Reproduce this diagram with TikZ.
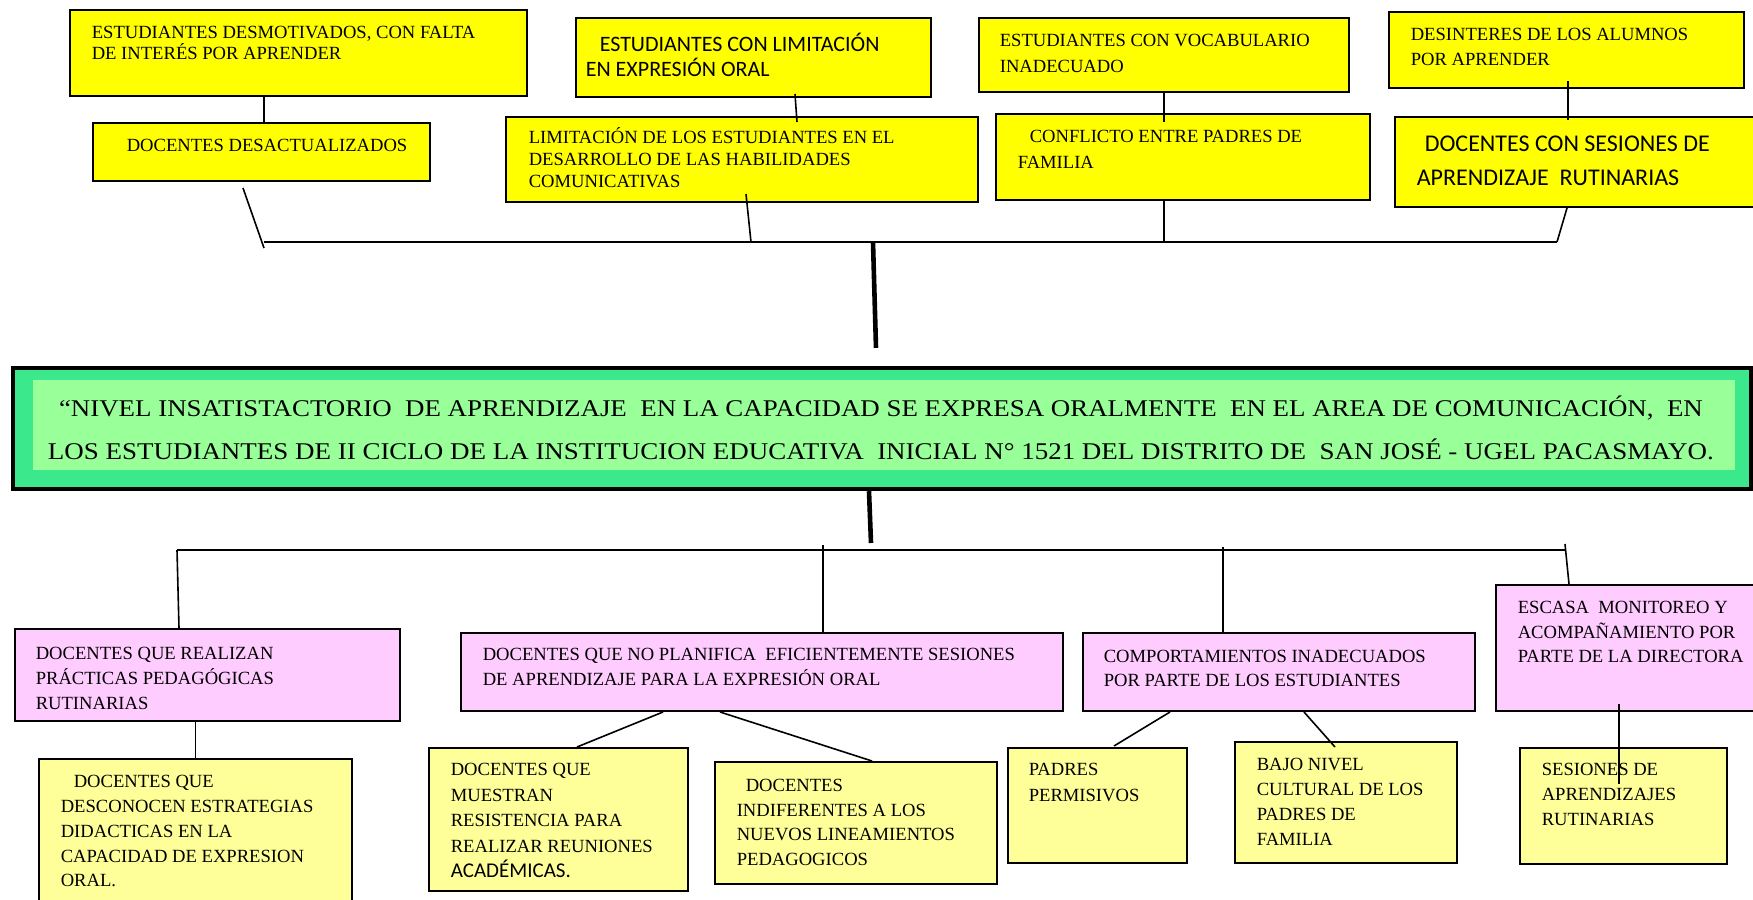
\documentclass[tikz,border=0pt]{standalone}
\usepackage{fontspec}
\setmainfont{Liberation Serif}
\newfontfamily\calibri{Carlito}
\usepackage{graphicx}
\usetikzlibrary{calc,fit}

\definecolor{amarillo}{HTML}{FFFF00}
\definecolor{amarilloclaro}{HTML}{FFFF99}
\definecolor{rosado}{HTML}{FFCCFF}
\definecolor{verde}{HTML}{3CE88C}
\definecolor{verdeclaro}{HTML}{99FF99}

\begin{document}
\begin{tikzpicture}
[x=0.5pt,y=-0.5pt,line width=0.8pt,
caja/.style={draw,line width=1pt,inner sep=0pt},
efecto/.style={caja,fill=amarillo},
causa/.style={caja,fill=rosado},
subcausa/.style={caja,fill=amarilloclaro},
txt/.style={anchor=north west,align=left,inner sep=0pt,
	font=\fontsize{9.3}{#1}\selectfont},
grueso/.style={line width=2.3pt}]

\clip (0,0) rectangle (1753,900);

% efectos (arriba)
\node[efecto,fit={(70,10) (527,96)}] (a1) {};
\node[efecto,fit={(93,123) (430,181)}] (a2) {};
\node[efecto,fit={(576,18) (931,97)}] (b1) {};
\node[efecto,fit={(506,117) (978,202)}] (b2) {};
\node[efecto,fit={(979,18) (1349,92)}] (c1) {};
\node[efecto,fit={(996,114) (1370,200)}] (c2) {};
\node[efecto,fit={(1389,12) (1744,88)}] (d1) {};
\node[efecto,fit={(1395,117) (1770,207)}] (d2) {};

\node[txt=10.5] (a1t) at (91,25.8) {ESTUDIANTES DESMOTIVADOS, CON FALTA\\DE INTERÉS POR APRENDER};
\node[txt=11] (a2t) at (126,138.8) {DOCENTES DESACTUALIZADOS};
\node[txt=12.5,font=\calibri\fontsize{11}{12.5}\selectfont] (b1t) at (585,32.5)
	{\hspace*{7pt}ESTUDIANTES CON LIMITACIÓN\\EN EXPRESIÓN ORAL};
\node[txt=11] (b2t) at (528,126.5) {LIMITACIÓN DE LOS ESTUDIANTES EN EL\\DESARROLLO DE LAS HABILIDADES\\COMUNICATIVAS};
\node[txt=12.75] (c1t) at (999,33.8) {ESTUDIANTES CON VOCABULARIO\\INADECUADO};
\node[txt=13] (c2t) at (1017,129.8) {\hspace*{6pt}CONFLICTO ENTRE PADRES DE\\FAMILIA};
\node[txt=12.5] (d1t) at (1410,27.8) {DESINTERES DE LOS ALUMNOS\\POR APRENDER};
\node[txt=17,font=\calibri\fontsize{12}{17}\selectfont] (d2t) at (1416,135.3)
	{\hspace*{4pt}DOCENTES CON SESIONES DE\\APRENDIZAJE~ RUTINARIAS};

% problema central
\node[draw,line width=2.2pt,fill=verde,inner sep=0pt,fit={(13,368) (1751,489)}] (titulo) {};
\node[fill=verdeclaro,inner sep=0pt,fit={(33,380) (1735,470)}] (tituloin) {};
\node[anchor=north,align=center,inner sep=0pt,font=\fontsize{12}{21.5}\selectfont] (titulot) at (881,394.6)
	{\resizebox{822pt}{\height}{“NIVEL INSATISTACTORIO~ DE APRENDIZAJE~ EN LA CAPACIDAD SE EXPRESA ORALMENTE~ EN EL AREA DE COMUNICACIÓN,~ EN}\\
	 \resizebox{833pt}{\height}{LOS ESTUDIANTES DE II CICLO DE LA INSTITUCION EDUCATIVA~ INICIAL N° 1521 DEL DISTRITO DE~ SAN JOSÉ - UGEL PACASMAYO.}};

% causas (abajo)
\node[causa,fit={(15,629) (400,721)}] (e1) {};
\node[causa,fit={(461,633) (1063,711)}] (e2) {};
\node[causa,fit={(1083,633) (1475,711)}] (e3) {};
\node[causa,fit={(1496,585) (1770,711)}] (e4) {};
\node[subcausa,fit={(39,759) (352,915)}] (f1) {};
\node[subcausa,fit={(429,748) (688,891)}] (f2) {};
\node[subcausa,fit={(715,762) (997,884)}] (f3) {};
\node[subcausa,fit={(1008,748) (1187,863)}] (f4) {};
\node[subcausa,fit={(1235,742) (1457,863)}] (f5) {};
\node[subcausa,fit={(1520,748) (1727,864)}] (f6) {};

\node[txt=12.3] (e1t) at (35,646.8) {DOCENTES QUE REALIZAN\\PRÁCTICAS PEDAGÓGICAS\\RUTINARIAS};
\node[txt=12.5] (e2t) at (482,647.8) {DOCENTES QUE NO PLANIFICA~ EFICIENTEMENTE SESIONES\\DE APRENDIZAJE PARA LA EXPRESIÓN ORAL};
\node[txt=12] (e3t) at (1103,649.8) {COMPORTAMIENTOS INADECUADOS\\POR PARTE DE LOS ESTUDIANTES};
\node[txt=12.25] (e4t) at (1517,600.8) {ESCASA~ MONITOREO Y\\ACOMPAÑAMIENTO POR\\PARTE DE LA DIRECTORA};
\node[txt=12.35] (f1t) at (60,774.8) {\hspace*{6.5pt}DOCENTES QUE\\DESCONOCEN ESTRATEGIAS\\DIDACTICAS EN LA\\CAPACIDAD DE EXPRESION\\ORAL.};
\node[txt=12.75] (f2t) at (450,762.8) {DOCENTES QUE\\MUESTRAN\\RESISTENCIA PARA\\REALIZAR REUNIONES\\{\calibri\fontsize{10.5}{12.75}\selectfont ACADÉMICAS.}};
\node[txt=12.25] (f3t) at (736,778.8) {\hspace*{4.5pt}DOCENTES\\INDIFERENTES A LOS\\NUEVOS LINEAMIENTOS\\PEDAGOGICOS};
\node[txt=13] (f4t) at (1028,762.8) {PADRES\\PERMISIVOS};
\node[txt=12.5] (f5t) at (1256,757.8) {BAJO NIVEL\\CULTURAL DE LOS\\PADRES DE\\FAMILIA};
\node[txt=12.5] (f6t) at (1541,762.8) {SESIONES DE\\APRENDIZAJES\\RUTINARIAS};

% uniones
\coordinate (ja) at (264,242);
\coordinate (jb) at (751,242);
\coordinate (jc) at (1164,241);
\coordinate (jd) at (1557,242);
\coordinate (jm) at (873,242);
\coordinate (jn) at (871,543);
\coordinate (j1) at (177,550);
\coordinate (j2) at (823,545);
\coordinate (j3) at (1223,547);
\coordinate (j4) at (1565,544);

\draw (ja) -- (jd);
\draw (ja |- a1.south) -- (ja |- a2.north);
\draw ($(a2.south)+(-9.25pt,-3pt)$) -- ($(ja)+(0,-3pt)$);
\draw ($(b1.south)+(20.75pt,2pt)$) -- ($(b2.north)+(27.5pt,-3pt)$);
\draw ($(b2.south)+(2pt,4.5pt)$) -- (jb);
\draw (c1.south) -- ($(c1.south |- c2.north)+(0,-4.5pt)$);
\draw (jc |- c2.south) -- (jc);
\draw ($(d1.south)+(0.75pt,4pt)$) -- ++(0,-19.5pt);
\draw ($(d2.south)+(-7.75pt,0)$) -- (jd);
\draw[grueso] (jm) -- ($(titulo.north)+(-3pt,9pt)$);

\draw[grueso] ($(titulo.south)+(-6.5pt,0)$) -- (jn);
\draw (j1) -- (j1 -| j4);
\draw (j1) -- ($(e1.north)+(-14.25pt,0)$);
\foreach \j/\e in {j2/e2,j3/e3}
	\draw (\j) -- (\j |- \e.north);
\draw (j4) -- ($(j4 |- e4.north)+(2pt,0)$);
\draw (f1.north |- e1.south) -- (f1.north);
\draw ($(e2.south)+(-49.5pt,0)$) -- ($(f2.north)+(9.25pt,0)$);
\draw ($(e2.south)+(-21pt,0)$) -- ($(f3.north)+(8pt,0)$);
\draw ($(e3.south)+(-54.5pt,0)$) -- ($(f4.north)+(8.25pt,0.5pt)$);
\draw ($(e3.south)+(12.5pt,0)$) -- ($(f5.north)+(-5.5pt,-3pt)$);
\draw ($(f6.north |- e4.south)+(-2.25pt,4pt)$) -- ($(f6.north)+(-2.25pt,-18.5pt)$);
\end{tikzpicture}
\end{document}
